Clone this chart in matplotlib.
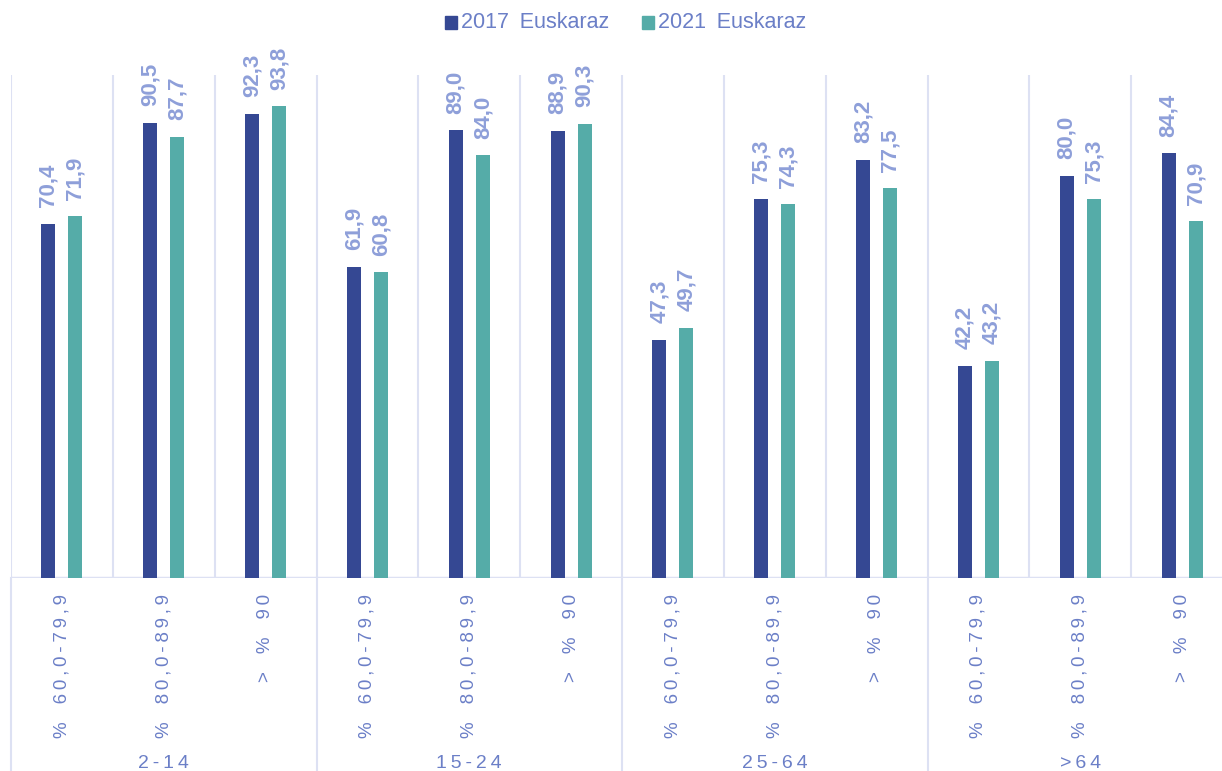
import matplotlib
matplotlib.use("Agg")
import matplotlib.pyplot as plt
from matplotlib.patches import Rectangle
from matplotlib.transforms import blended_transform_factory

plt.rcParams['font.family'] = ['Liberation Sans', 'DejaVu Sans']

groups = ["2-14", "15-24", "25-64", ">64"]
bands = ["% 60,0-79,9", "% 80,0-89,9", "> % 90"]
series_names = ["2017 Euskaraz", "2021 Euskaraz"]
v2017 = [70.4, 90.5, 92.3, 61.9, 89.0, 88.9, 47.3, 75.3, 83.2, 42.2, 80.0, 84.4]
v2021 = [71.9, 87.7, 93.8, 60.8, 84.0, 90.3, 49.7, 74.3, 77.5, 43.2, 75.3, 70.9]

c2017 = "#354893"
c2021 = "#55ACA8"
lab_col = "#8E9FD9"
tick_col = "#6B7FC7"
grid_col = "#DDE1F3"

W, H = 1222, 771
fig = plt.figure(figsize=(W / 100, H / 100), dpi=100)
left, right, top, bottom = 11, 1233, 75, 578
ax = fig.add_axes([left / W, (H - bottom) / H, (right - left) / W, (bottom - top) / H])
ax.set_xlim(0, 12)
ax.set_ylim(0, 100)
for s in ax.spines.values():
    s.set_visible(False)
ax.set_xticks([])
ax.set_yticks([])

n = len(v2017)
xs = [i + 0.5 for i in range(n)]
bw = 0.138
off = 0.133
b1 = ax.bar([x - off for x in xs], v2017, width=bw, color=c2017, zorder=3)
b2 = ax.bar([x + off for x in xs], v2021, width=bw, color=c2021, zorder=3)

for bars, vals in ((b1, v2017), (b2, v2021)):
    for rect, v in zip(bars, vals):
        ax.annotate(f"{v:.1f}".replace(".", ","),
                    (rect.get_x() + rect.get_width() / 2, v),
                    xytext=(0, 12), textcoords="offset points",
                    rotation=90, ha="center", va="bottom",
                    fontsize=16, fontweight="bold", color=lab_col)

# vertical grid lines within plot
for i in range(n + 1):
    ax.axvline(i, color=grid_col, lw=1.5, zorder=1)
ax.axhline(0, color=grid_col, lw=2.5, zorder=2)

TS = "\u2009"


def spaced(s):
    return TS.join(s).replace(" ", "  ")


# category tick labels (below axis)
trans = blended_transform_factory(ax.transData, fig.transFigure)
for i, x in enumerate(xs):
    lab = spaced(bands[i % 3])
    ax.text(x, (H - 594) / H, lab, transform=trans, rotation=90,
            ha="center", va="top", fontsize=13.5, color=tick_col, clip_on=False)

# group separators
for g in range(len(groups) + 1):
    ax.plot([g * 3, g * 3], [0, -(H - bottom) / (bottom - top) * 100],
            color=grid_col, lw=1.5, clip_on=False, zorder=1)
for g, name in enumerate(groups):
    ax.text(g * 3 + 1.5, (H - 763) / H, spaced(name), transform=trans,
            ha="center", va="center", fontsize=14, color=tick_col)

# legend
ly = (H - 22) / H
items = [(series_names[0], c2017, 445), (series_names[1], c2021, 642)]
for name, col, px in items:
    fig.patches.append(Rectangle((px / W, (H - 29) / H), 12 / W, 13 / H,
                                 transform=fig.transFigure, color=col))
    fig.text((px + 16) / W, ly, name.replace(" ", "\u2002"), ha="left", va="center",
             fontsize=15.5, color=tick_col)

fig.savefig("out.png", dpi=100)
